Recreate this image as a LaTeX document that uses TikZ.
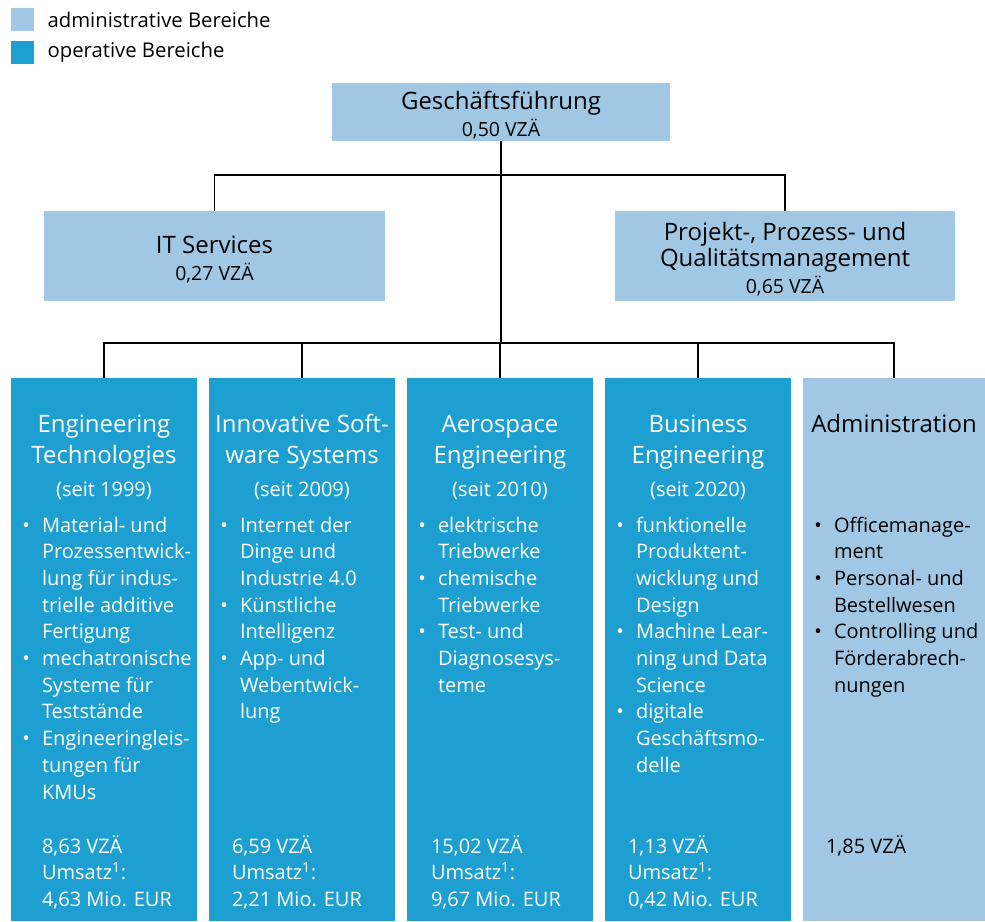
\documentclass[tikz,border=0pt]{standalone}
\usepackage{fontspec}
\setmainfont{Open Sans}
\usetikzlibrary{positioning, calc}
\definecolor{admblue}{RGB}{160,200,228}
\definecolor{opblue}{RGB}{30,159,210}
\newcommand{\bul}{\llap{\textbullet\hspace{12pt}}}
\newcommand{\toprule}{\rule{0pt}{24pt}}

\begin{document}
\begin{tikzpicture}[x=1pt, y=-1pt,
  adm/.style={fill=admblue, inner sep=0pt, align=center},
  op/.style={fill=opblue, inner sep=0pt},
  unit/.style={minimum width=186pt, minimum height=543pt, anchor=north},
  head/.style={font=\fontsize{24}{31.5}\selectfont, align=center, anchor=base},
  since/.style={font=\fontsize{20}{26}\selectfont, inner sep=0pt, anchor=base},
  items/.style={font=\fontsize{20}{26.7}\selectfont, inner sep=0pt, align=left, anchor=base west},
  keytext/.style={font=\fontsize{20.3}{22}\selectfont, inner sep=0pt, right=13pt of #1},
  link/.style={line width=1.6pt}]
\useasboundingbox (0,0) rectangle (985,921);

\node[fill=admblue, minimum size=23pt, inner sep=0pt, anchor=north west] (keyadm) at (11,8) {};
\node[fill=opblue, minimum size=23pt, inner sep=0pt, anchor=north west] (keyop) at (11,41) {};
\node[keytext=keyadm] {administrative Bereiche};
\node[keytext=keyop] {operative Bereiche};

\node[adm, minimum width=338pt, minimum height=58pt, font=\fontsize{24}{27}\selectfont] (gf) at (501,112)
  {\toprule Geschäftsführung\\{\fontsize{19.5}{27}\selectfont 0,50 VZÄ}};
\node[adm, minimum width=341pt, minimum height=90pt, font=\fontsize{24}{27}\selectfont] (its) at (214.5,256)
  {\toprule IT Services\\{\fontsize{19.5}{27}\selectfont 0,27 VZÄ}};
\node[adm, minimum width=340pt, minimum height=90pt, font=\fontsize{24}{26.5}\selectfont] (pqm) at (785,256)
  {\toprule Projekt-, Prozess- und\\Qualitätsmanagement\\{\fontsize{19.5}{26.5}\selectfont 0,65 VZÄ}};

\node[op, unit] (et) at (104,378) {};
\node[op, unit] (iss) at (302,378) {};
\node[op, unit] (ae) at (500,378) {};
\node[op, unit] (be) at (698,378) {};
\node[adm, unit, minimum width=182pt] (adm) at (894,378) {};

\coordinate (upbar) at ($(gf.south)+(0,34)$);
\coordinate (lowbar) at ($(gf.south)+(0,202)$);
\draw[link] (gf.south) -- (upbar) -| (its.north);
\draw[link] (upbar) -| (pqm.north);
\draw[link] (upbar) -- (lowbar);
\foreach \b in {et,iss,ae,be,adm}
  \draw[link] (lowbar) -| (\b.north);

\node[head, white] (ethead) at ($(et.north)+(0,85.5)$) {Engineering\\Technologies};
\node[since, white] at ($(et.north)+(0,118)$) {(seit 1999)};
\node[items, white] (etlist) at ($(et.north west)+(31,{154+10*26.7})$)
  {\bul Material- und\\Prozessentwick-\\lung für indus-\\trielle additive\\Fertigung\\
   \bul mechatronische\\Systeme für\\Teststände\\\bul Engineeringleis-\\tungen für\\KMUs};
\node[items, white] (etfacts) at ($(et.north west)+(31,{475+2*26.7})$)
  {8,63 VZÄ\\Umsatz\textsuperscript{1}:\\4,63 Mio. EUR};

\node[head, white] (isshead) at ($(iss.north)+(0,85.5)$) {Innovative Soft-\\ware Systems};
\node[since, white] at ($(iss.north)+(0,118)$) {(seit 2009)};
\node[items, white] (isslist) at ($(iss.north west)+(31,{154+7*26.7})$)
  {\bul Internet der\\Dinge und\\Industrie 4.0\\\bul Künstliche\\Intelligenz\\
   \bul App- und\\Webentwick-\\lung};
\node[items, white] (issfacts) at ($(iss.north west)+(23,{475+2*26.7})$)
  {6,59 VZÄ\\Umsatz\textsuperscript{1}:\\2,21 Mio. EUR};

\node[head, white] (aehead) at ($(ae.north)+(0,85.5)$) {Aerospace\\Engineering};
\node[since, white] at ($(ae.north)+(0,118)$) {(seit 2010)};
\node[items, white] (aelist) at ($(ae.north west)+(31,{154+6*26.7})$)
  {\bul elektrische\\Triebwerke\\\bul chemische\\Triebwerke\\\bul Test- und\\Diagnosesys-\\teme};
\node[items, white] (aefacts) at ($(ae.north west)+(24,{475+2*26.7})$)
  {15,02 VZÄ\\Umsatz\textsuperscript{1}:\\9,67 Mio. EUR};

\node[head, white] (behead) at ($(be.north)+(0,85.5)$) {Business\\Engineering};
\node[since, white] at ($(be.north)+(0,118)$) {(seit 2020)};
\node[items, white] (belist) at ($(be.north west)+(31,{154+9*26.7})$)
  {\bul funktionelle\\Produktent-\\wicklung und\\Design\\\bul Machine Lear-\\ning und Data\\Science\\
   \bul digitale\\Geschäftsmo-\\delle};
\node[items, white] (befacts) at ($(be.north west)+(23,{475+2*26.7})$)
  {1,13 VZÄ\\Umsatz\textsuperscript{1}:\\0,42 Mio. EUR};

\node[head] (admhead) at ($(adm.north)+(0,54)$) {Administration};
\node[items] (admlist) at ($(adm.north west)+(31,{154+6*26.7})$)
  {\bul Officemanage-\\ment\\\bul Personal- und\\Bestellwesen\\\bul Controlling und\\Förderabrech-\\nungen};
\node[items] (admfacts) at ($(adm.north west)+(23,475)$) {1,85 VZÄ};
\end{tikzpicture}
\end{document}
